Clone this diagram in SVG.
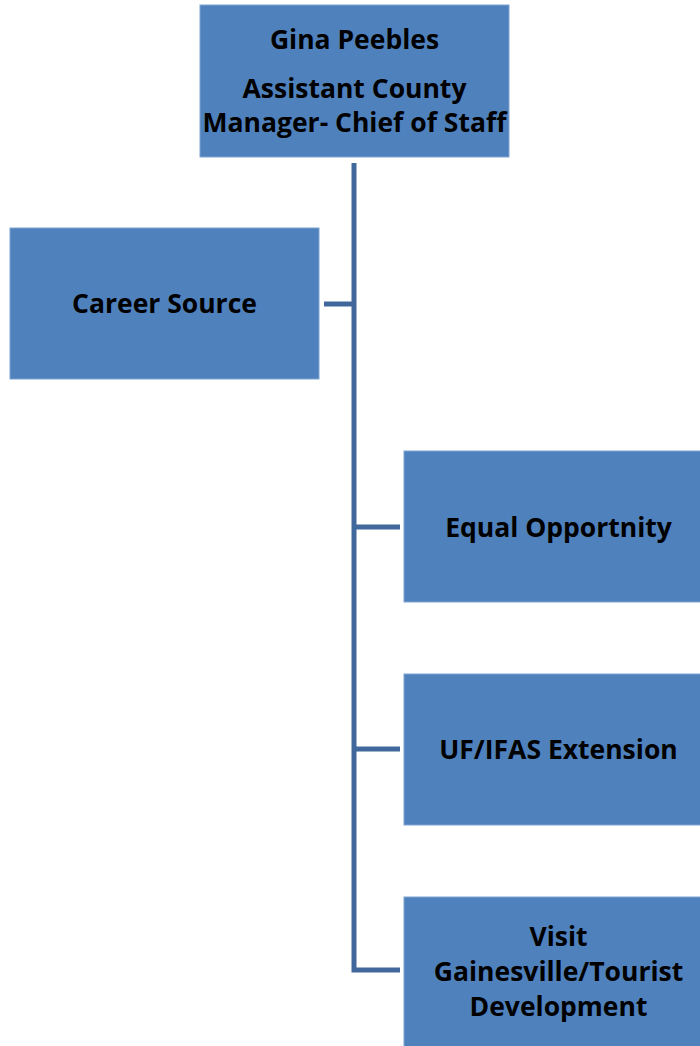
<svg xmlns="http://www.w3.org/2000/svg" width="700" height="1046" viewBox="0 0 700 1046">
<style>
.box{fill:#4F81BD;stroke:#7EA3D1;stroke-width:1}
.t{font-family:"Open Sans","Liberation Sans",sans-serif;font-weight:bold;font-size:26.5px;fill:#000;text-anchor:middle}
.c{fill:none;stroke:#41689C;stroke-width:5}
</style>
<rect width="700" height="1046" fill="#fff"/>
<g id="connectors">
<path class="c" d="M354 163 V970 H400"/>
<path class="c" d="M324 304 H354"/>
<path class="c" d="M354 527 H400"/>
<path class="c" d="M354 749 H400"/>
</g>
<g id="gina">
<rect class="box" x="200" y="5" width="309" height="152"/>
<text class="t" x="354.5" y="48.5">Gina Peebles</text>
<text class="t" x="354.5" y="97.5">Assistant County</text>
<text class="t" x="354.5" y="131.5">Manager- Chief of Staff</text>
</g>
<g id="career">
<rect class="box" x="10" y="228" width="309" height="151"/>
<text class="t" x="164.5" y="313">Career Source</text>
</g>
<g id="equal">
<rect class="box" x="404" y="451" width="309" height="151"/>
<text class="t" x="558.5" y="537">Equal Opportnity</text>
</g>
<g id="ufifas">
<rect class="box" x="404" y="674" width="309" height="151"/>
<text class="t" x="558.5" y="759">UF/IFAS Extension</text>
</g>
<g id="visit">
<rect class="box" x="404" y="897" width="309" height="152"/>
<text class="t" x="558.5" y="946">Visit</text>
<text class="t" x="558.5" y="981">Gainesville/Tourist</text>
<text class="t" x="558.5" y="1016">Development</text>
</g>
</svg>
